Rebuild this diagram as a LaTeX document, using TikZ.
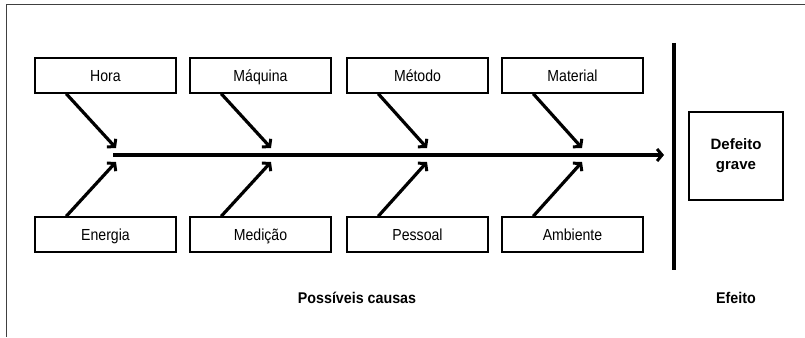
\documentclass[tikz,border=0pt]{standalone}
\usepackage{fontspec}
\setmainfont{Liberation Sans}
\newfontfamily\narrowfont[FakeStretch=0.88]{Liberation Sans}
\newfontfamily\narrowbold[FakeStretch=0.92]{Liberation Sans Bold}
\usetikzlibrary{arrows.meta,calc}
\begin{document}
\begin{tikzpicture}[x=1pt,y=-1pt,
  cause/.style={draw,line width=1.5pt,minimum width=141pt,minimum height=35pt,
    inner sep=0pt,text height=13.5pt,text depth=1pt,
    font=\narrowfont\fontsize{16}{18}\selectfont},
  bone/.style={line width=3.2pt,-{Straight Barb[length=5pt,width=12pt,line width=3pt]}},
  caption/.style={font=\narrowbold\fontsize{15.5}{17}\selectfont}]
\useasboundingbox (0,0) rectangle (805,337);
% open frame
\draw[line width=1pt,black!75] (805,5) -- (6,5) -- (6,337);
% upper causes
\node[cause] (hora)  at (105.5,75.5) {Hora};
\node[cause] (maq)   at (260.5,75.5) {Máquina};
\node[cause] (met)   at (417.5,75.5) {Método};
\node[cause] (mat)   at (572.5,75.5) {Material};
% lower causes
\node[cause] (ener)  at (105.5,234.5) {Energia};
\node[cause] (med)   at (260.5,234.5) {Medição};
\node[cause] (pes)   at (417.5,234.5) {Pessoal};
\node[cause] (amb)   at (572.5,234.5) {Ambiente};
% spine
\coordinate (spineA) at (113,155);
\coordinate (spineB) at (664,155);
\draw[line width=3.2pt,-{Straight Barb[length=5pt,width=12pt,line width=3pt]}] (spineA) -- (spineB);
% tips of the bones
\coordinate (t1) at (116,148); \coordinate (b1) at (116,162);
\coordinate (t2) at (271,148); \coordinate (b2) at (271,162);
\coordinate (t3) at (427,148); \coordinate (b3) at (427,162);
\coordinate (t4) at (582,148); \coordinate (b4) at (582,162);
\draw[bone] ($(hora.south west)+(32,0)$) -- (t1);
\draw[bone] ($(maq.south west)+(32,0)$) -- (t2);
\draw[bone] ($(met.south west)+(32,0)$) -- (t3);
\draw[bone] ($(mat.south west)+(32,0)$) -- (t4);
\draw[bone] ($(ener.north west)+(32,0)$) -- (b1);
\draw[bone] ($(med.north west)+(32,0)$) -- (b2);
\draw[bone] ($(pes.north west)+(32,0)$) -- (b3);
\draw[bone] ($(amb.north west)+(32,0)$) -- (b4);
% divider
\coordinate (divA) at (674,43);
\coordinate (divB) at (674,270);
\draw[line width=3.2pt] (divA) -- (divB);
% effect
\node[draw,line width=1.5pt,minimum width=94pt,minimum height=88pt,inner sep=0pt,
  align=center,font=\bfseries\fontsize{15}{20}\selectfont] (eff) at (736,156) {Defeito\\grave};
% captions
\node[caption] (causas) at (357,298) {Possíveis causas};
\node[caption] (efeito) at (736,298) {Efeito};
\end{tikzpicture}
\end{document}
